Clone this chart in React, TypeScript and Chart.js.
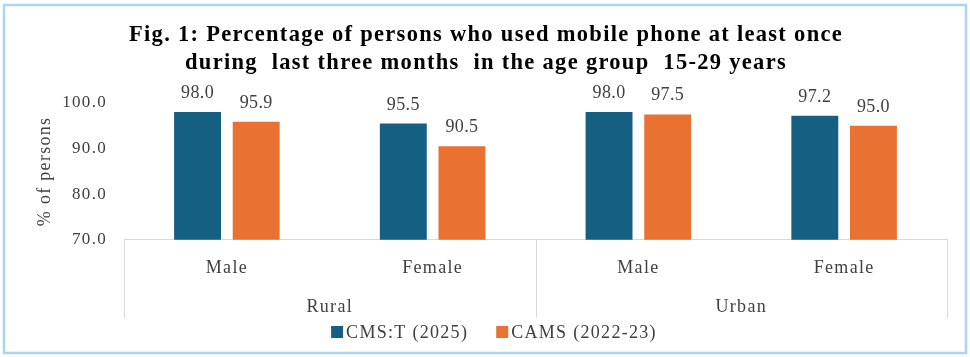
import React, { useEffect, useRef } from 'react';
import { Chart, registerables } from 'chart.js';

Chart.register(...registerables);

const categories = ['Male', 'Female', 'Male', 'Female'];
const groups = ['Rural', 'Urban'];
const seriesNames = ['CMS:T (2025)', 'CAMS (2022-23)'];
const cmsT2025 = [98.0, 95.5, 98.0, 97.2];
const cams2022 = [95.9, 90.5, 97.5, 95.0];
const yMin = 70;
const yMax = 100;
const yStep = 10;
const titleLines = [
  'Fig. 1: Percentage of persons who used mobile phone at least once',
  'during  last three months  in the age group  15-29 years',
];
const yTitle = '% of persons';

const BLUE = '#156082';
const ORANGE = '#E97132';
const TEXT = '#404040';
const SERIF = "'Liberation Serif', 'Times New Roman', serif";
const SPACING = '1.3px';

const framePlugin = {
  id: 'frame',
  beforeDraw(chart: any) {
    const { ctx, width, height } = chart;
    ctx.save();
    ctx.fillStyle = '#ffffff';
    ctx.fillRect(0, 0, width, height);
    ctx.strokeStyle = '#a9d6f3';
    ctx.lineWidth = 2.5;
    ctx.strokeRect(4, 5, width - 8, height - 9);
    ctx.restore();
    // wider glyph spacing, like the original's text rendering
    (ctx as any).letterSpacing = SPACING;
  },
};

const separatorPlugin = {
  id: 'separators',
  afterDraw(chart: any) {
    const { ctx, chartArea } = chart;
    const x = chart.scales.x;
    const g = chart.scales.group;
    const mid = (x.getPixelForValue(1) + x.getPixelForValue(2)) / 2;
    const bounds = [chartArea.left, mid, chartArea.right];
    ctx.save();
    ctx.strokeStyle = '#d9d9d9';
    ctx.lineWidth = 1;
    ctx.beginPath();
    bounds.forEach((b) => {
      const xx = Math.round(b) + 0.5;
      ctx.moveTo(xx, chartArea.bottom);
      ctx.lineTo(xx, g.bottom + 1);
    });
    ctx.stroke();
    ctx.restore();
  },
};

const legendPlugin = {
  id: 'customLegend',
  afterDraw(chart: any) {
    const { ctx } = chart;
    ctx.save();
    (ctx as any).letterSpacing = SPACING;
    ctx.font = `18px ${SERIF}`;
    ctx.textBaseline = 'middle';
    ctx.textAlign = 'left';
    const box = 12;
    const gapBoxText = 3;
    const gapItems = 28;
    const items = chart.data.datasets.map((ds: any) => ({
      text: ds.label,
      color: ds.backgroundColor,
      w: box + gapBoxText + ctx.measureText(ds.label).width,
    }));
    const total = items.reduce((s: number, it: any) => s + it.w, 0) + gapItems * (items.length - 1);
    let x = chart.width / 2 + 9 - total / 2;
    const y = 333;
    items.forEach((it: any) => {
      ctx.fillStyle = it.color;
      ctx.fillRect(x, y - box / 2 - 1, box, box);
      ctx.fillStyle = TEXT;
      ctx.fillText(it.text, x + box + gapBoxText, y);
      x += it.w + gapItems;
    });
    ctx.restore();
  },
};

const dataLabelPlugin = {
  id: 'dataLabels',
  afterDatasetsDraw(chart: any) {
    const { ctx } = chart;
    ctx.save();
    (ctx as any).letterSpacing = '0.4px';
    ctx.font = `18px ${SERIF}`;
    ctx.fillStyle = TEXT;
    ctx.textAlign = 'center';
    ctx.textBaseline = 'alphabetic';
    chart.data.datasets.forEach((ds: any, i: number) => {
      const meta = chart.getDatasetMeta(i);
      meta.data.forEach((el: any, j: number) => {
        ctx.fillText(Number(ds.data[j]).toFixed(1), el.x, el.y - 14);
      });
    });
    ctx.restore();
  },
};

export default function App() {
  const ref = useRef<HTMLCanvasElement | null>(null);

  useEffect(() => {
    if (!ref.current) return;
    const chart = new Chart(ref.current, {
      type: 'bar',
      data: {
        labels: categories,
        datasets: [
          {
            label: seriesNames[0],
            data: cmsT2025,
            backgroundColor: BLUE,
            categoryPercentage: 0.57,
            barPercentage: 0.8,
          },
          {
            label: seriesNames[1],
            data: cams2022,
            backgroundColor: ORANGE,
            categoryPercentage: 0.57,
            barPercentage: 0.8,
          },
        ],
      },
      options: {
        animation: false,
        responsive: false,
        maintainAspectRatio: false,
        devicePixelRatio: 1,
        layout: { padding: { top: 5, left: 25, right: 23, bottom: 40 } },
        plugins: {
          title: {
            display: true,
            text: titleLines,
            color: '#000000',
            font: { family: SERIF, size: 22.5, weight: 'bold', lineHeight: 28 / 22.5 },
            padding: { top: 16, bottom: 26 },
          },
          legend: { display: false },
          tooltip: { enabled: false },
        },
        scales: {
          x: {
            type: 'category',
            position: 'bottom',
            grid: { display: false, drawTicks: false },
            border: { display: true, color: '#d9d9d9', width: 1 },
            ticks: { color: TEXT, font: { family: SERIF, size: 18 }, padding: 18 },
            afterFit: (scale: any) => {
              scale.height = 37.6;
            },
          },
          group: {
            type: 'category',
            position: 'bottom',
            labels: groups,
            grid: { display: false, drawTicks: false },
            border: { display: false },
            ticks: { color: TEXT, font: { family: SERIF, size: 18 }, padding: 19 },
            afterFit: (scale: any) => {
              scale.height = 39.6;
            },
          },
          y: {
            min: yMin,
            max: yMax,
            grid: { display: false, drawTicks: false },
            border: { display: false },
            ticks: {
              stepSize: yStep,
              color: TEXT,
              font: { family: SERIF, size: 17 },
              padding: 17,
              callback: (v: any) => Number(v).toFixed(1),
            },
            title: {
              display: true,
              text: yTitle,
              color: TEXT,
              font: { family: SERIF, size: 18 },
              padding: { top: 9, bottom: 0 },
            },
            afterFit: (scale: any) => {
              scale.width = 99;
            },
          },
        },
      },
      plugins: [framePlugin, separatorPlugin, dataLabelPlugin, legendPlugin],
    });
    return () => chart.destroy();
  }, []);

  return (
    <div style={{ position: 'fixed', left: 0, top: 0, width: 970, height: 357 }}>
      <canvas ref={ref} width={970} height={357} style={{ display: 'block', width: 970, height: 357 }} />
    </div>
  );
}
